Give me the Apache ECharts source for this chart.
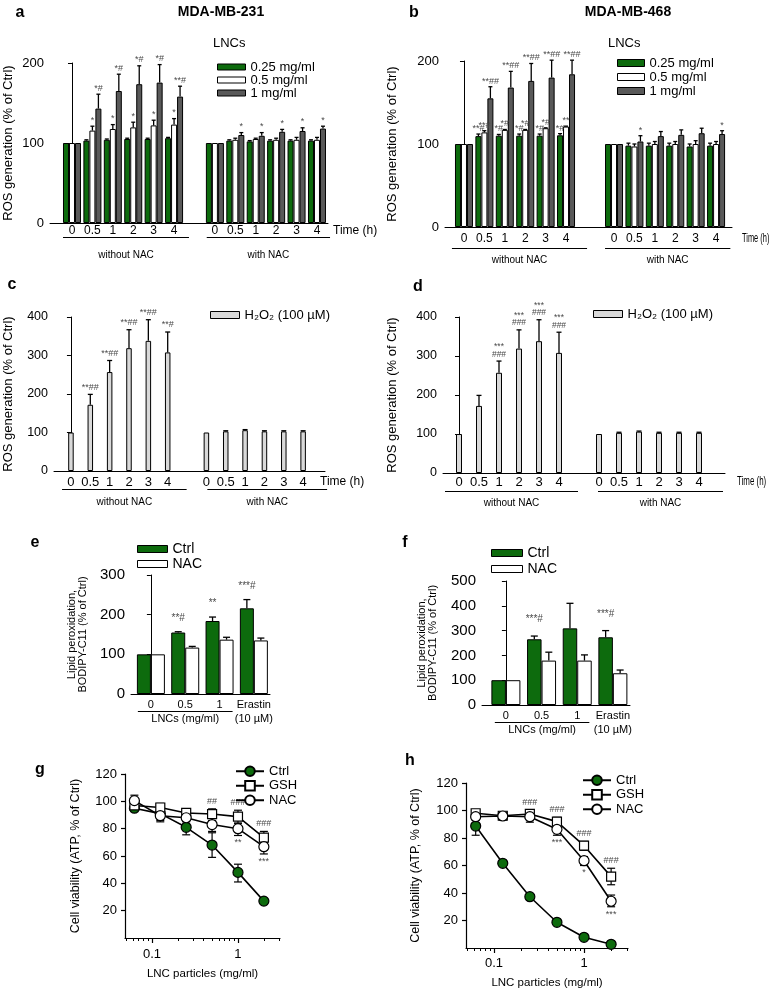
<!DOCTYPE html>
<html><head><meta charset="utf-8">
<script src="https://cdn.jsdelivr.net/npm/echarts@6/dist/echarts.min.js"></script>
<style>
html,body{margin:0;padding:0;background:#fff;width:770px;height:992px;overflow:hidden}
.p{position:absolute;left:0;top:0;width:770px;height:992px}
</style></head><body>
<script>
// ================= DATA =================
const timeLabels = ['0', '0.5', '1', '2', '3', '4'];
const lncNames = ['0.25 mg/ml', '0.5 mg/ml', '1 mg/ml'];
const groupNames = ['without NAC', 'with NAC'];

// a: MDA-MB-231, ROS generation (% of Ctrl); first 6 = without NAC, last 6 = with NAC
const a025    = [100, 103, 104, 105, 105, 106,   100, 103, 102, 103, 103, 103];
const a025Err = [100, 104, 105, 106, 106, 107,   100, 104, 103, 104, 104, 104];
const a025Sig = ['', '', '', '', '', '',         '', '', '', '', '', ''];
const a05     = [100, 115.5, 117.5, 119.5, 122, 123,   100, 104, 105, 104, 104, 104];
const a05Err  = [100, 121, 123, 126, 128.5, 130.5,     100, 106, 106, 106, 107, 107];
const a05Sig  = ['', '*', '*', '*', '*', '*',          '', '', '', '', '', ''];
const a1      = [100, 143, 165, 173.5, 175.5, 158,     100, 110, 109, 114, 115, 118];
const a1Err   = [100, 161, 186, 196.5, 198, 171,       100, 113, 113, 117, 119, 121];
const a1Sig   = ['', '*#', '*#', '*#', '*#', '**#',    '', '*', '*', '*', '*', '*'];

// b: MDA-MB-468
const b025    = [100, 109.5, 110, 110, 110, 110.5,     100, 98, 98, 98, 97, 98];
const b025Err = [100, 112, 111.5, 112, 112, 112.5,     100, 101, 101, 101, 100, 101];
const b025Sig = ['', '**#', '*#', '*#', '*#', '*#',    '', '', '', '', '', ''];
const b05     = [100, 114, 117, 117, 119, 121,         100, 97, 100, 100, 100, 100];
const b05Err  = [100, 116, 117.5, 117.5, 119.5, 121.5, 100, 100, 103, 103, 104, 103];
const b05Sig  = ['', '**#', '*#', '*#', '*#', '**',    '', '', '', '', '', ''];
const b1      = [100, 155, 168, 176, 180, 184,         100, 103, 109.5, 111, 113, 112];
const b1Err   = [100, 169, 187.5, 197, 201, 201,       100, 110, 115, 117, 119, 116];
const b1Sig   = ['', '**##', '**##', '**##', '**##', '**##', '', '*', '', '', '', '*'];

// c / d: H2O2 (100 uM)
const h2o2Name = 'H\u2082O\u2082 (100 \u00b5M)';
const h2o2     = [100, 172, 257, 319, 338, 308,   100, 103, 106, 103, 103, 103];
const h2o2Err  = [100, 199, 287, 367, 393, 361,   100, 104.5, 107.5, 104.5, 104.5, 104.5];
const cSig     = ['', '**##', '**##', '**##', '**##', '**#', '', '', '', '', '', ''];
const dSig     = ['', '', '***\n###', '***\n###', '***\n###', '***\n###', '', '', '', '', '', ''];

// e / f: lipid peroxidation, BODIPY-C11 (% of Ctrl)
const lipidLabels = ['0', '0.5', '1', 'Erastin\n(10 \u00b5M)'];
const lipidNames  = ['Ctrl', 'NAC'];
const eCtrl    = [100, 155, 184, 216];
const eCtrlErr = [100, 157, 194, 238];
const eCtrlSig = ['', '**#', '**', '***#'];
const eNac     = [100, 117, 137, 135];
const eNacErr  = [100, 120, 143, 141];
const fCtrl    = [100, 265, 309, 273];
const fCtrlErr = [100, 278, 410, 300];
const fCtrlSig = ['', '***#', '', '***#'];
const fNac     = [100, 179, 179, 128];
const fNacErr  = [100, 213, 202, 141];

// g / h: cell viability (ATP, % of Ctrl) vs LNC particles (mg/ml)
const lncDose  = [0.0625, 0.125, 0.25, 0.5, 1, 2];
const viaNames = ['Ctrl', 'GSH', 'NAC'];
const gCtrl   = [95, 91, 81, 68, 48, 27];
const gCtrlLo = [93, 85, 75.5, 59, 41, 25.5];
const gCtrlHi = [97, 95, 86, 77, 54, 28.5];
const gGsh    = [97, 95.5, 91.5, 90.7, 88.8, 73.4];
const gGshLo  = [95, 93, 89, 86, 84, 70];
const gGshHi  = [100, 98.5, 93, 94.5, 93.5, 78];
const gNac    = [100.5, 89.5, 88, 83, 80, 66.8];
const gNacLo  = [97, 86, 85, 78, 75, 61.5];
const gNacHi  = [104.5, 93, 91, 88, 84, 72];
const gAbove  = ['', '', '', '##', '###', '###'];
const gBelow  = ['', '', '', '', '**', '***'];
const hCtrl   = [88.7, 61.6, 37.3, 18.7, 7.8, 2.7];
const hCtrlLo = [82, 60, 35.5, 17.5, 6.5, 1.5];
const hCtrlHi = [94, 63.5, 39, 20, 9, 4];
const hGsh    = [98, 96.2, 97.5, 91.9, 74.4, 51.9];
const hGshLo  = [95.5, 94, 94.5, 88, 71, 46];
const hGshHi  = [100, 99, 100.5, 95, 77.5, 58];
const hNac    = [95.5, 96, 95.5, 86.3, 63.5, 34];
const hNacLo  = [93, 93, 91.5, 82, 60, 30];
const hNacHi  = [98, 99, 98.5, 90, 66.5, 38.5];
const hAbove  = ['', '', '###', '###', '###', '###'];
const hBelow  = ['', '', '', '***', '*', '***'];

const logMajor = [0.1, 1];
const logMinor = [0.05, 0.06, 0.07, 0.08, 0.09, 0.2, 0.3, 0.4, 0.5, 0.6, 0.7, 0.8, 0.9, 2, 3];

// ================= STYLE / HELPERS =================
const FONT = "'Liberation Sans', Arial, Helvetica, sans-serif";
const GREEN = '#0d6b0d', DARK = '#595959', LIGHT = '#d9d9d9', SIGC = '#4a4a4a';

function groupPos(start2) {
  return timeLabels.map((_, i) => i).concat(timeLabels.map((_, i) => start2 + i));
}
const labels12 = timeLabels.concat(timeLabels);

function T(x, y, text, size, o) {
  o = o || {};
  return {type: 'text', x: x, y: y, scaleX: o.sx || 1, silent: true, z: 10,
    style: {text: text, fontSize: size, fontFamily: FONT, fontWeight: o.bold ? 'bold' : 'normal',
      fill: o.color || '#000', align: o.align || 'center', verticalAlign: o.va || 'middle'}};
}
function L(x1, y1, x2, y2) {
  return {type: 'line', silent: true, z: 10, shape: {x1: x1, y1: y1, x2: x2, y2: y2}, style: {stroke: '#000', lineWidth: 1}};
}
function mount(option) {
  const d = document.createElement('div'); d.className = 'p'; document.body.appendChild(d);
  const c = echarts.init(d, null, {renderer: 'canvas'});
  c.setOption(option);
  return c;
}
function labelAt(cfg, v) {
  for (let i = 0; i < cfg.pos.length; i++) if (Math.abs(cfg.pos[i] - v) < 1e-6) return cfg.labels[i];
  return '';
}

function barErr(cfg, s, off) {
  return {
    type: 'custom', z: 3, silent: true,
    data: cfg.pos.map((p, i) => [p, s.val[i], s.err[i]]),
    encode: {x: 0, y: [1, 2]},
    renderItem: function (params, api) {
      const i = params.dataIndex;
      const p0 = api.coord([api.value(0), api.value(1)]);
      const p1 = api.coord([api.value(0), api.value(2)]);
      const x = p0[0] + off;
      const ch = [];
      if (api.value(2) > api.value(1)) {
        ch.push({type: 'line', shape: {x1: x, y1: p0[1], x2: x, y2: p1[1]}, style: {stroke: '#000', lineWidth: 1.3}});
        ch.push({type: 'line', shape: {x1: x - cfg.capW / 2, y1: p1[1], x2: x + cfg.capW / 2, y2: p1[1]}, style: {stroke: '#000', lineWidth: 1.3}});
      }
      const sig = s.sig && s.sig[i];
      if (sig) ch.push({type: 'text', style: {text: sig, x: x, y: Math.min(p0[1], p1[1]) - cfg.sigGap,
        align: 'center', verticalAlign: 'bottom', fill: SIGC, fontSize: cfg.sigFont, fontFamily: FONT, lineHeight: cfg.sigFont - 1}});
      return {type: 'group', children: ch};
    }
  };
}

function barOption(cfg) {
  const n = cfg.series.length;
  const series = cfg.series.map(s => ({
    type: 'bar', name: s.name, barWidth: cfg.barWidth, barGap: '0%', z: 2, silent: true,
    itemStyle: {color: s.color, borderColor: '#000', borderWidth: 1},
    data: cfg.pos.map((p, i) => [p, s.val[i]])
  })).concat(cfg.series.map((s, k) => barErr(cfg, s, (k - (n - 1) / 2) * cfg.barWidth)));
  return {
    animation: false,
    textStyle: {fontFamily: FONT},
    grid: {left: cfg.grid[0], top: cfg.grid[1], width: cfg.grid[2], height: cfg.grid[3]},
    xAxis: {type: 'value', min: cfg.xMin, max: cfg.xMax, splitLine: {show: false}, axisTick: {show: false},
      axisLine: {show: true, onZero: false, lineStyle: {color: '#000', width: 1}},
      axisLabel: {customValues: cfg.pos, formatter: v => labelAt(cfg, v), color: '#000', fontFamily: FONT,
        fontSize: cfg.xFont, lineHeight: cfg.xLH || (cfg.xFont + 2), margin: cfg.xMargin}},
    yAxis: {type: 'value', min: 0, max: cfg.yMax, interval: cfg.yInt, splitLine: {show: false},
      axisLine: {show: true, lineStyle: {color: '#000', width: 1}},
      axisTick: {show: true, length: 4, lineStyle: {color: '#000'}},
      axisLabel: {color: '#000', fontFamily: FONT, fontSize: cfg.yFont, margin: cfg.yMargin},
      name: cfg.yName, nameLocation: 'middle', nameGap: cfg.yNameGap,
      nameTextStyle: {color: '#000', fontFamily: FONT, fontSize: cfg.yNameFont, lineHeight: cfg.yNameLH || (cfg.yNameFont + 2)}},
    legend: {orient: 'vertical', left: cfg.legend.left, top: cfg.legend.top, padding: 0, itemGap: 0,
      itemWidth: cfg.legend.w, itemHeight: cfg.legend.h, icon: 'rect', selectedMode: false,
      itemStyle: {borderColor: '#000', borderWidth: 1},
      textStyle: {color: '#000', fontFamily: FONT, fontSize: cfg.legend.font, lineHeight: cfg.legend.lh},
      data: cfg.series.map(s => s.name)},
    series: series
  };
}

function barPanel(cfg) {
  const ch = mount(barOption(cfg));
  const g = [];
  (cfg.groups || []).forEach(gr => {
    const x1 = ch.convertToPixel({xAxisIndex: 0, yAxisIndex: 0}, [gr.from, 0])[0];
    const x2 = ch.convertToPixel({xAxisIndex: 0, yAxisIndex: 0}, [gr.to, 0])[0];
    g.push(L(x1, gr.lineY, x2, gr.lineY));
    g.push(T((x1 + x2) / 2, gr.textY, gr.text, gr.font));
  });
  (cfg.texts || []).forEach(t => g.push(t));
  ch.setOption({graphic: g});
  return ch;
}

function lineErr(cfg, s) {
  return {
    type: 'custom', z: 2, silent: true,
    data: cfg.x.map((v, i) => [v, s.lo[i], s.hi[i]]),
    encode: {x: 0, y: [1, 2]},
    renderItem: function (params, api) {
      const i = params.dataIndex;
      const lo = api.coord([api.value(0), api.value(1)]);
      const hi = api.coord([api.value(0), api.value(2)]);
      const x = lo[0], c = cfg.capW / 2;
      const ch = [
        {type: 'line', shape: {x1: x, y1: lo[1], x2: x, y2: hi[1]}, style: {stroke: '#000', lineWidth: 1.2}},
        {type: 'line', shape: {x1: x - c, y1: lo[1], x2: x + c, y2: lo[1]}, style: {stroke: '#000', lineWidth: 1.2}},
        {type: 'line', shape: {x1: x - c, y1: hi[1], x2: x + c, y2: hi[1]}, style: {stroke: '#000', lineWidth: 1.2}}
      ];
      if (s.above && s.above[i]) ch.push({type: 'text', z2: 50, style: {text: s.above[i], x: x, y: hi[1] - 3,
        align: 'center', verticalAlign: 'bottom', fill: SIGC, fontSize: 9, fontFamily: FONT}});
      if (s.below && s.below[i]) ch.push({type: 'text', z2: 50, style: {text: s.below[i], x: x, y: lo[1] + 3,
        align: 'center', verticalAlign: 'top', fill: SIGC, fontSize: 9, fontFamily: FONT}});
      return {type: 'group', children: ch};
    }
  };
}

function linePanel(cfg) {
  const series = cfg.series.map(s => ({
    type: 'line', name: s.name, symbol: s.symbol, symbolSize: s.size, z: 3, silent: true,
    itemStyle: {color: s.fill, borderColor: '#000', borderWidth: 1.2},
    lineStyle: {color: '#000', width: 1.6},
    data: cfg.x.map((v, i) => [v, s.val[i]])
  })).concat(cfg.series.map(s => lineErr(cfg, s)));
  const axBase = {type: 'log', logBase: 10, min: cfg.xMin, max: cfg.xMax, position: 'bottom', splitLine: {show: false}};
  const option = {
    animation: false,
    textStyle: {fontFamily: FONT},
    grid: {left: cfg.grid[0], top: cfg.grid[1], width: cfg.grid[2], height: cfg.grid[3]},
    xAxis: [
      Object.assign({}, axBase, {
        axisLine: {show: true, onZero: false, lineStyle: {color: '#000', width: 1.2}},
        axisTick: {show: true, customValues: logMajor, length: 5, lineStyle: {color: '#000', width: 1.2}},
        axisLabel: {customValues: logMajor, formatter: v => (v < 0.5 ? '0.1' : '1'), color: '#000',
          fontFamily: FONT, fontSize: 13, margin: cfg.xMargin},
        name: 'LNC particles (mg/ml)', nameLocation: 'middle', nameGap: cfg.xNameGap,
        nameTextStyle: {color: '#000', fontFamily: FONT, fontSize: 11.5}}),
      Object.assign({}, axBase, {
        axisLine: {show: false},
        axisTick: {show: true, customValues: logMinor, length: 3, lineStyle: {color: '#000', width: 1}},
        axisLabel: {show: false}})
    ],
    yAxis: {type: 'value', min: 0, max: 120, interval: 20, splitLine: {show: false},
      axisLine: {show: true, lineStyle: {color: '#000', width: 1.2}},
      axisTick: {show: true, length: 4, lineStyle: {color: '#000', width: 1.2}},
      axisLabel: {color: '#000', fontFamily: FONT, fontSize: 13, margin: 8, showMinLabel: false},
      name: 'Cell viability (ATP, % of Ctrl)', nameLocation: 'middle', nameGap: cfg.yNameGap,
      nameTextStyle: {color: '#000', fontFamily: FONT, fontSize: 12.5}},
    legend: {orient: 'vertical', left: cfg.legend.left, top: cfg.legend.top, padding: 0, itemGap: 0,
      itemWidth: 28, itemHeight: 12, selectedMode: false,
      textStyle: {color: '#000', fontFamily: FONT, fontSize: 13, lineHeight: 14.5},
      data: cfg.series.map(s => s.name)},
    series: series
  };
  const ch = mount(option);
  ch.setOption({graphic: cfg.texts || []});
  return ch;
}

// ================= PANELS =================
// a
const posA = groupPos(7);
barPanel({
  pos: posA, labels: labels12, grid: [50, 63, 278, 160], xMin: -1.077, xMax: 12.54, yMax: 200, yInt: 100,
  barWidth: 6, capW: 4, sigGap: 2, sigFont: 9,
  xFont: 12, xMargin: 1, yFont: 13, yMargin: 6,
  yName: 'ROS generation (% of Ctrl)', yNameFont: 13, yNameGap: 34,
  series: [
    {name: lncNames[0], val: a025, err: a025Err, sig: a025Sig, color: GREEN},
    {name: lncNames[1], val: a05, err: a05Err, sig: a05Sig, color: '#ffffff'},
    {name: lncNames[2], val: a1, err: a1Err, sig: a1Sig, color: DARK}],
  legend: {left: 217, top: 60.5, w: 28, h: 6, lh: 13, font: 13},
  groups: [
    {from: posA[0] - 0.44, to: posA[5] + 0.73, lineY: 237.5, textY: 255, text: groupNames[0], font: 10},
    {from: posA[6] - 0.4, to: posA[11] + 0.64, lineY: 237.5, textY: 255, text: groupNames[1], font: 10}],
  texts: [T(20, 13, 'a', 16, {bold: true}), T(221, 12, 'MDA-MB-231', 14, {bold: true}),
    T(213, 43, 'LNCs', 13, {align: 'left'}), T(333, 231, 'Time (h)', 12, {align: 'left'})]
});

// b
const posB = groupPos(7.35);
barPanel({
  pos: posB, labels: labels12, grid: [445, 61, 287, 166], xMin: -0.93, xMax: 13.13, yMax: 200, yInt: 100,
  barWidth: 6, capW: 4, sigGap: 1.5, sigFont: 9,
  xFont: 12, xMargin: 5, yFont: 13, yMargin: 6,
  yName: 'ROS generation (% of Ctrl)', yNameFont: 13, yNameGap: 45,
  series: [
    {name: lncNames[0], val: b025, err: b025Err, sig: b025Sig, color: GREEN},
    {name: lncNames[1], val: b05, err: b05Err, sig: b05Sig, color: '#ffffff'},
    {name: lncNames[2], val: b1, err: b1Err, sig: b1Sig, color: DARK}],
  legend: {left: 617, top: 56, w: 27, h: 7, lh: 14, font: 13},
  groups: [
    {from: posB[0] - 0.59, to: posB[5] + 1.03, lineY: 248.5, textY: 260, text: groupNames[0], font: 10},
    {from: posB[6] - 0.44, to: posB[11] + 0.7, lineY: 248.5, textY: 260, text: groupNames[1], font: 10}],
  texts: [T(414, 13, 'b', 16, {bold: true}), T(628, 12, 'MDA-MB-468', 14, {bold: true}),
    T(608, 43, 'LNCs', 13, {align: 'left'}), T(742, 239, 'Time (h)', 12, {align: 'left', sx: 0.62})]
});

// c
const posC = groupPos(7);
barPanel({
  pos: posC, labels: labels12, grid: [52, 317, 273, 154], xMin: -0.876, xMax: 13.13, yMax: 400, yInt: 100,
  barWidth: 5.5, capW: 5, sigGap: 3, sigFont: 9,
  xFont: 13, xMargin: 4, yFont: 12.5, yMargin: 6,
  yName: 'ROS generation (% of Ctrl)', yNameFont: 13, yNameGap: 38,
  series: [{name: h2o2Name, val: h2o2, err: h2o2Err, sig: cSig, color: LIGHT}],
  legend: {left: 210, top: 308, w: 29, h: 7, lh: 14, font: 13},
  groups: [
    {from: posC[0] - 0.46, to: posC[5] + 0.98, lineY: 489.5, textY: 502, text: groupNames[0], font: 10},
    {from: posC[6] + 0.05, to: posC[11] + 1.24, lineY: 489.5, textY: 502, text: groupNames[1], font: 10}],
  texts: [T(12, 285, 'c', 16, {bold: true}), T(320, 482, 'Time (h)', 12, {align: 'left'})]
});

// d
const posD = groupPos(7);
barPanel({
  pos: posD, labels: labels12, grid: [443, 317, 282, 156], xMin: -0.8, xMax: 13.3, yMax: 400, yInt: 100,
  barWidth: 6, capW: 5, sigGap: 3, sigFont: 8.5,
  xFont: 13, xMargin: 2, yFont: 12.5, yMargin: 6,
  yName: 'ROS generation (% of Ctrl)', yNameFont: 13, yNameGap: 43,
  series: [{name: h2o2Name, val: h2o2, err: h2o2Err, sig: dSig, color: LIGHT}],
  legend: {left: 593, top: 307, w: 29, h: 7, lh: 14, font: 13},
  groups: [
    {from: posD[0] - 0.7, to: posD[5] + 0.95, lineY: 491.5, textY: 503, text: groupNames[0], font: 10},
    {from: posD[6] - 0.05, to: posD[11] + 1.2, lineY: 491.5, textY: 503, text: groupNames[1], font: 10}],
  texts: [T(418, 287, 'd', 16, {bold: true}), T(737, 482, 'Time (h)', 12, {align: 'left', sx: 0.66})]
});

// e
const posE = [0, 1, 2, 3];
barPanel({
  pos: posE, labels: lipidLabels, grid: [131, 575, 139, 119], xMin: -0.58, xMax: 3.47, yMax: 300, yInt: 100,
  barWidth: 14, capW: 7, sigGap: 9, sigFont: 10,
  xFont: 11, xLH: 14, xMargin: 4, yFont: 15, yMargin: 6,
  yName: 'Lipid peroxidation,\nBODIPY-C11 (% of Ctrl)', yNameFont: 11, yNameLH: 11, yNameGap: 43,
  series: [
    {name: lipidNames[0], val: eCtrl, err: eCtrlErr, sig: eCtrlSig, color: GREEN},
    {name: lipidNames[1], val: eNac, err: eNacErr, sig: null, color: '#ffffff'}],
  legend: {left: 137, top: 541.5, w: 30, h: 7, lh: 15, font: 14},
  groups: [{from: -0.38, to: 2.38, lineY: 711.5, textY: 719, text: 'LNCs (mg/ml)', font: 11}],
  texts: [T(35, 543, 'e', 16, {bold: true})]
});

// f
const posF = [0, 1, 2, 3];
barPanel({
  pos: posF, labels: lipidLabels, grid: [482, 581, 148, 124], xMin: -0.67, xMax: 3.48, yMax: 500, yInt: 100,
  barWidth: 14.5, capW: 7, sigGap: 12, sigFont: 10,
  xFont: 11, xLH: 14, xMargin: 4, yFont: 15, yMargin: 6,
  yName: 'Lipid peroxidation,\nBODIPY-C11 (% of Ctrl)', yNameFont: 11, yNameLH: 11, yNameGap: 44,
  series: [
    {name: lipidNames[0], val: fCtrl, err: fCtrlErr, sig: fCtrlSig, color: GREEN},
    {name: lipidNames[1], val: fNac, err: fNacErr, sig: null, color: '#ffffff'}],
  legend: {left: 491, top: 545, w: 31, h: 7, lh: 16, font: 14},
  groups: [{from: -0.31, to: 2.34, lineY: 722.5, textY: 730, text: 'LNCs (mg/ml)', font: 11}],
  texts: [T(405, 543, 'f', 16, {bold: true})]
});

// g
linePanel({
  x: lncDose, grid: [125, 774, 155, 164], xMin: 0.0486, xMax: 3.08, capW: 8,
  xMargin: 10, xNameGap: 30, yNameGap: 43,
  series: [
    {name: viaNames[0], val: gCtrl, lo: gCtrlLo, hi: gCtrlHi, symbol: 'circle', size: 10, fill: GREEN},
    {name: viaNames[1], val: gGsh, lo: gGshLo, hi: gGshHi, symbol: 'rect', size: 9, fill: '#ffffff', above: gAbove},
    {name: viaNames[2], val: gNac, lo: gNacLo, hi: gNacHi, symbol: 'circle', size: 10, fill: '#ffffff', below: gBelow}],
  legend: {left: 235, top: 764},
  texts: [T(40, 770, 'g', 16, {bold: true})]
});

// h
linePanel({
  x: lncDose, grid: [466, 783, 162, 165], xMin: 0.0488, xMax: 3.08, capW: 8,
  xMargin: 9, xNameGap: 29, yNameGap: 44,
  series: [
    {name: viaNames[0], val: hCtrl, lo: hCtrlLo, hi: hCtrlHi, symbol: 'circle', size: 10, fill: GREEN},
    {name: viaNames[1], val: hGsh, lo: hGshLo, hi: hGshHi, symbol: 'rect', size: 9, fill: '#ffffff', above: hAbove},
    {name: viaNames[2], val: hNac, lo: hNacLo, hi: hNacHi, symbol: 'circle', size: 10, fill: '#ffffff', below: hBelow}],
  legend: {left: 582, top: 773},
  texts: [T(410, 761, 'h', 16, {bold: true})]
});
</script>
</body></html>
